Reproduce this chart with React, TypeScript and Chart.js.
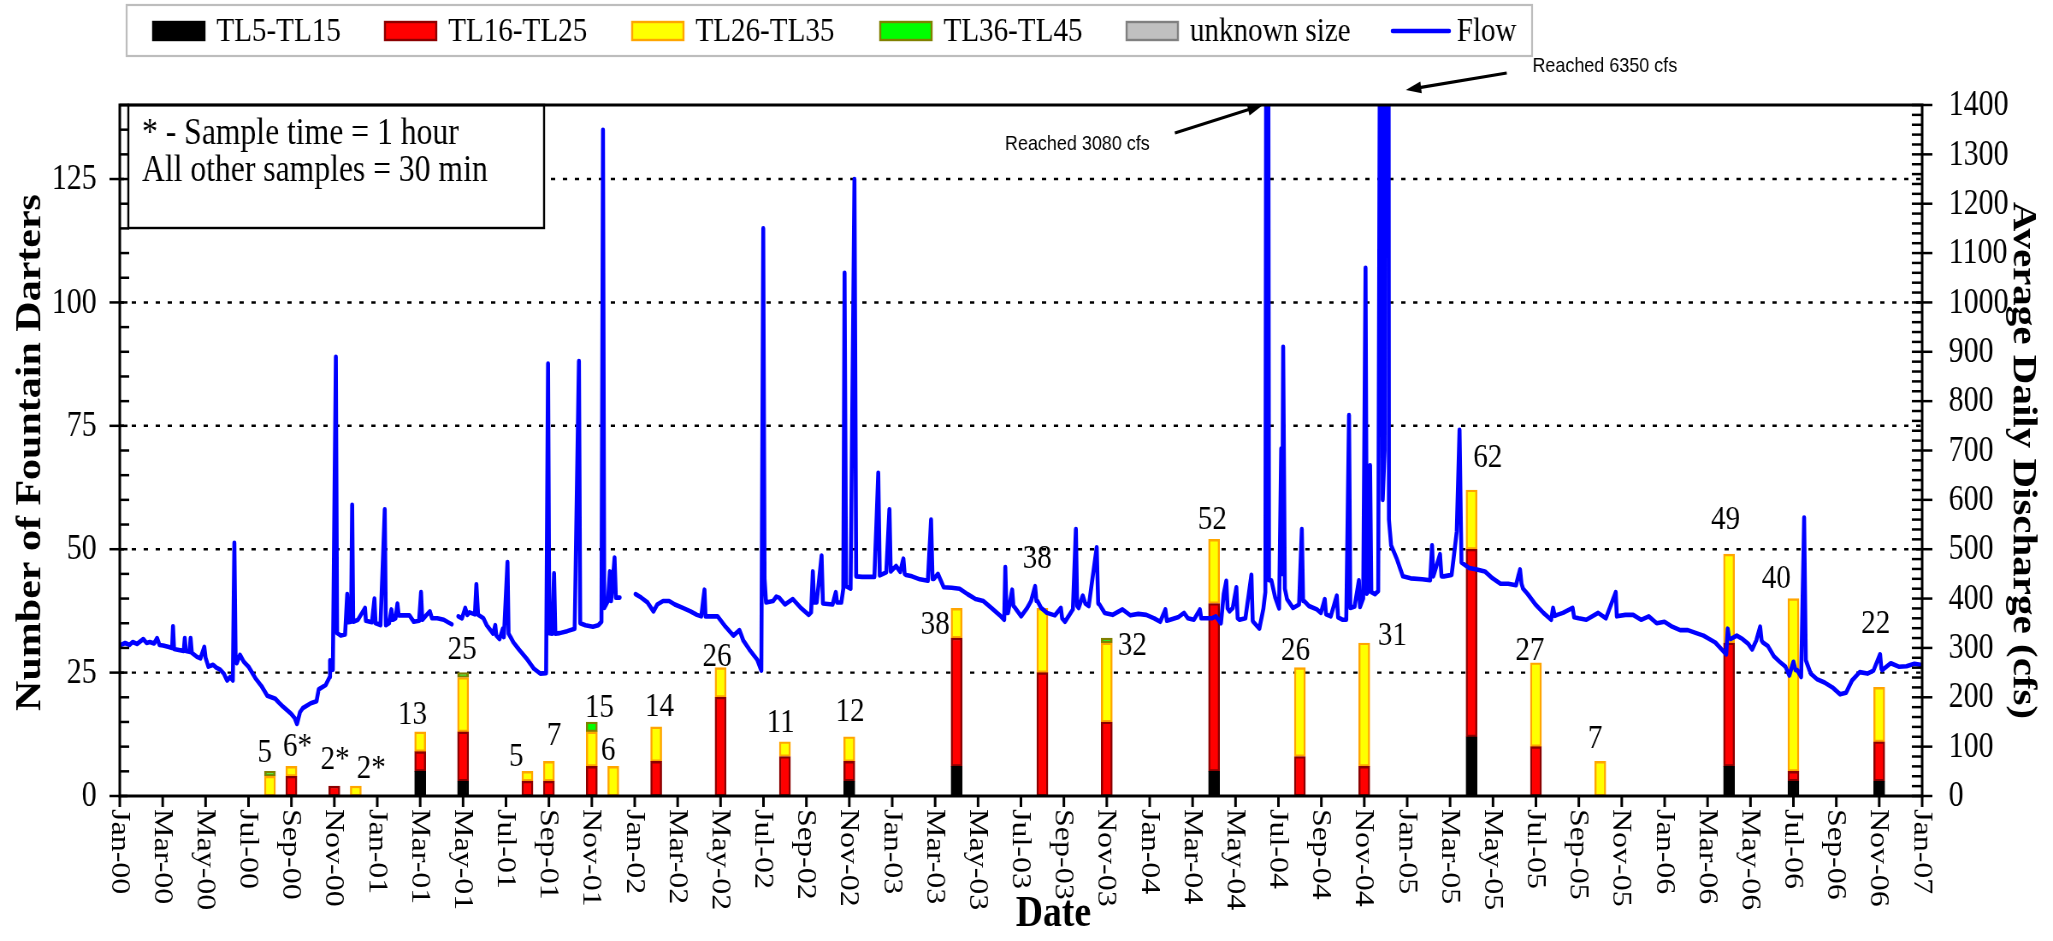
import React, { useEffect, useRef } from 'react';
import { Chart, registerables } from 'chart.js';

Chart.register(...registerables);

// Sampling events, in months elapsed since 1 Jan 2000
const sampleMonths = [7, 8, 10, 11, 14, 16, 19, 20, 22, 23, 25, 28, 31, 34, 39, 43, 46, 51, 55, 58, 63, 66, 69, 75, 78, 82];
// Samples taken with a 1-hour effort (flagged with *)
const oneHourSample = [false, true, true, true, false, false, false, false, false, false, false, false, false, false, false, false, false, false, false, false, false, false, false, false, false, false];

// Fountain darter counts per size class at each sampling event
const countTL5toTL15 = [0, 0, 0, 0, 5, 3, 0, 0, 0, 0, 0, 0, 0, 3, 6, 0, 0, 5, 0, 0, 12, 0, 0, 6, 3, 3];
const countTL16toTL25 = [0, 4, 2, 0, 4, 10, 3, 3, 6, 0, 7, 20, 8, 4, 26, 25, 15, 34, 8, 6, 38, 10, 0, 25, 2, 8];
const countTL26toTL35 = [4, 2, 0, 2, 4, 11, 2, 4, 7, 6, 7, 6, 3, 5, 6, 13, 16, 13, 18, 25, 12, 17, 7, 18, 35, 11];
const countTL36toTL45 = [1, 0, 0, 0, 0, 1, 0, 0, 2, 0, 0, 0, 0, 0, 0, 0, 1, 0, 0, 0, 0, 0, 0, 0, 0, 0];
const countUnknown = [0, 0, 0, 0, 0, 0, 0, 0, 0, 0, 0, 0, 0, 0, 0, 0, 0, 0, 0, 0, 0, 0, 0, 0, 0, 0];

// Average daily discharge (cfs), one list per year: [month of year, cfs]; null marks missing record
const flow2000: [number, number | null][] = [
  [0.0, 305], [0.25, 310], [0.45, 306], [0.6, 312], [0.8, 308], [1.1, 318], [1.25, 310], [1.4, 312], [1.6, 309],
  [1.74, 320], [1.85, 306], [2.02, 305], [2.29, 302], [2.44, 300], [2.48, 344], [2.53, 298], [2.75, 296], [2.98, 294],
  [3.03, 320], [3.08, 294], [3.25, 292], [3.3, 320], [3.36, 290], [3.6, 282], [3.76, 279], [3.94, 302], [4.0, 280],
  [4.13, 262], [4.35, 266], [4.5, 260], [4.68, 256], [4.85, 248], [5.0, 234], [5.14, 241], [5.27, 234], [5.34, 513],
  [5.4, 280], [5.45, 269], [5.6, 286], [5.78, 272], [6.0, 262], [6.33, 238], [6.6, 223], [6.88, 203], [7.25, 197],
  [7.4, 190], [7.61, 181], [7.98, 167], [8.15, 158], [8.26, 146], [8.4, 170], [8.53, 178], [8.9, 188], [9.17, 192],
  [9.27, 216], [9.6, 225], [9.78, 241], [9.8, 275], [9.85, 255], [9.93, 256], [10.07, 890], [10.13, 330], [10.3, 325],
  [10.5, 327], [10.6, 409], [10.66, 352], [10.78, 353], [10.83, 590], [10.88, 353], [11.1, 357], [11.43, 381],
  [11.47, 355], [11.75, 352], [11.87, 400], [11.92, 350],
];
const flow2001: [number, number | null][] = [
  [0.0, 349], [0.15, 346], [0.35, 581], [0.4, 346], [0.55, 350], [0.66, 378], [0.72, 357], [0.85, 360], [0.94, 390],
  [1.0, 366], [1.3, 366], [1.5, 366], [1.7, 353], [1.95, 355], [2.04, 413], [2.1, 357], [2.3, 367], [2.45, 374],
  [2.55, 360], [2.8, 360], [3.1, 357], [3.3, 352], [3.47, 348], [3.6, null], [3.78, 364], [3.95, 360], [4.1, 381],
  [4.2, 367], [4.3, 372], [4.55, 368], [4.62, 429], [4.7, 367], [4.95, 360], [5.1, 346], [5.4, 329], [5.5, 346],
  [5.55, 325], [5.7, 318], [5.85, 339], [5.9, 322], [6.07, 474], [6.12, 329], [6.35, 311], [6.6, 297], [6.95, 279],
  [7.3, 258], [7.6, 248], [7.87, 249], [7.96, 876], [8.02, 330], [8.15, 329], [8.24, 451], [8.3, 329], [8.5, 330],
  [8.85, 334], [9.2, 339], [9.4, 881], [9.46, 350], [9.7, 346], [10.05, 343], [10.3, 346], [10.45, 353], [10.52, 1350],
  [10.58, 381], [10.75, 395], [10.84, 455], [10.9, 395], [11.06, 483], [11.12, 402], [11.3, 402], [11.6, null],
];
const flow2002: [number, number | null][] = [
  [0.04, 409], [0.3, 402], [0.6, 392], [0.87, 374], [1.05, 388], [1.32, 395], [1.6, 395], [1.87, 388], [2.24, 381],
  [2.6, 374], [2.9, 367], [3.1, 364], [3.25, 418], [3.3, 364], [3.55, 364], [3.86, 364], [4.23, 343], [4.6, 325],
  [4.88, 336], [5.06, 315], [5.34, 297], [5.71, 276], [5.9, 254], [5.99, 1150], [6.05, 440], [6.12, 392], [6.45, 395],
  [6.6, 404], [6.73, 402], [7.0, 388], [7.37, 399], [7.74, 381], [8.11, 367], [8.22, 372], [8.3, 455], [8.36, 392],
  [8.48, 392], [8.71, 487], [8.77, 390], [9.22, 388], [9.37, 413], [9.43, 392], [9.63, 392], [9.72, 420], [9.78, 1060],
  [9.85, 425], [10.06, 420], [10.24, 1250], [10.32, 445], [10.6, 444], [10.89, 444], [11.17, 444], [11.35, 655],
  [11.42, 447], [11.72, 453], [11.87, 581], [11.93, 455],
];
const flow2003: [number, number | null][] = [
  [0.18, 466], [0.37, 454], [0.52, 481], [0.58, 450], [0.65, 448], [0.92, 445], [1.29, 439], [1.66, 436], [1.81, 560],
  [1.88, 440], [1.94, 440], [2.13, 450], [2.4, 423], [2.77, 422], [3.14, 420], [3.51, 409], [3.88, 399], [4.25, 395],
  [4.62, 381], [4.99, 367], [5.22, 357], [5.27, 464], [5.33, 371], [5.4, 371], [5.59, 418], [5.65, 385], [5.73, 381],
  [6.01, 364], [6.29, 381], [6.47, 395], [6.66, 425], [6.72, 395], [6.77, 395], [6.94, 381], [7.21, 371], [7.58, 366],
  [7.86, 381], [7.92, 360], [8.05, 353], [8.42, 378], [8.56, 541], [8.62, 385], [8.69, 381], [8.88, 406], [9.0, 390],
  [9.16, 385], [9.53, 504], [9.6, 390], [9.66, 388], [9.9, 371], [10.27, 367], [10.73, 378], [11.1, 366], [11.47, 369],
  [11.84, 367],
];
const flow2004: [number, number | null][] = [
  [0.21, 360], [0.49, 353], [0.73, 378], [0.8, 355], [0.95, 357], [1.32, 362], [1.6, 371], [1.78, 360], [2.06, 357],
  [2.34, 378], [2.4, 360], [2.52, 360], [2.89, 360], [3.08, 364], [3.32, 350], [3.45, 409], [3.57, 436], [3.63, 380],
  [3.72, 374], [3.87, 381], [4.04, 423], [4.1, 360], [4.19, 357], [4.46, 360], [4.74, 448], [4.8, 355], [4.83, 353],
  [5.11, 339], [5.3, 380], [5.39, 413], [5.48, 3080], [5.56, 437], [5.67, 437], [5.85, 402], [6.03, 380], [6.13, 704],
  [6.17, 450], [6.22, 910], [6.3, 420], [6.4, 399], [6.68, 381], [6.96, 388], [7.09, 541], [7.15, 395], [7.2, 395],
  [7.42, 385], [7.79, 378], [7.98, 371], [8.16, 399], [8.22, 368], [8.44, 364], [8.72, 406], [8.78, 362], [9.0, 357],
  [9.16, 357], [9.29, 772], [9.35, 381], [9.55, 384], [9.75, 437], [9.8, 383], [9.95, 400], [10.06, 1070], [10.12, 410],
  [10.2, 415], [10.27, 670], [10.33, 413], [10.5, 409], [10.65, 415], [10.8, 2600], [10.86, 600], [10.95, 700],
  [11.06, 6350], [11.15, 560], [11.25, 508], [11.52, 480], [11.8, 445],
];
const flow2005: [number, number | null][] = [
  [0.16, 441], [0.7, 439], [1.07, 437], [1.16, 508], [1.22, 445], [1.53, 490], [1.6, 445], [1.71, 445], [2.07, 448],
  [2.16, 480], [2.31, 536], [2.44, 742], [2.53, 473], [2.89, 462], [3.25, 459], [3.62, 455], [3.98, 441], [4.35, 430],
  [4.71, 430], [5.07, 427], [5.26, 459], [5.33, 430], [5.4, 420], [5.62, 409], [5.98, 388], [6.35, 371], [6.71, 357],
  [6.8, 381], [6.88, 365], [6.99, 367], [7.26, 371], [7.71, 381], [7.78, 362], [7.99, 360], [8.35, 357], [8.9, 371],
  [9.26, 360], [9.72, 413], [9.77, 364], [10.17, 367], [10.53, 367], [10.9, 357], [11.26, 364], [11.63, 350], [11.99, 353],
];
const flow2006: [number, number | null][] = [
  [0.35, 343], [0.72, 336], [1.08, 336], [1.54, 329], [1.81, 325], [2.08, 318], [2.36, 311], [2.72, 294], [2.87, 287],
  [2.94, 339], [3.0, 320], [3.08, 318], [3.36, 325], [3.63, 318], [3.9, 308], [4.08, 297], [4.27, 315], [4.45, 343],
  [4.52, 315], [4.58, 311], [4.81, 304], [5.09, 283], [5.36, 272], [5.63, 262], [5.81, 244], [6.0, 272], [6.1, 255],
  [6.18, 255], [6.36, 241], [6.5, 564], [6.58, 275], [6.63, 269], [6.81, 248], [7.09, 237], [7.45, 230], [7.82, 220],
  [8.18, 206], [8.45, 209], [8.73, 234], [9.09, 251], [9.45, 248], [9.73, 254], [10.04, 287], [10.1, 258], [10.14, 255],
  [10.54, 269], [10.91, 262], [11.27, 263], [11.64, 268], [12.0, 265],
];
const flowByYear = [flow2000, flow2001, flow2002, flow2003, flow2004, flow2005, flow2006];

// Axis ticks
const dateTickLabels = [
  'Jan-00', 'Mar-00', 'May-00', 'Jul-00', 'Sep-00', 'Nov-00',
  'Jan-01', 'Mar-01', 'May-01', 'Jul-01', 'Sep-01', 'Nov-01',
  'Jan-02', 'Mar-02', 'May-02', 'Jul-02', 'Sep-02', 'Nov-02',
  'Jan-03', 'Mar-03', 'May-03', 'Jul-03', 'Sep-03', 'Nov-03',
  'Jan-04', 'Mar-04', 'May-04', 'Jul-04', 'Sep-04', 'Nov-04',
  'Jan-05', 'Mar-05', 'May-05', 'Jul-05', 'Sep-05', 'Nov-05',
  'Jan-06', 'Mar-06', 'May-06', 'Jul-06', 'Sep-06', 'Nov-06',
  'Jan-07',
];
const darterTicks = [0, 25, 50, 75, 100, 125];
const dischargeTicks = [0, 100, 200, 300, 400, 500, 600, 700, 800, 900, 1000, 1100, 1200, 1300, 1400];

const SERIF = '"Liberation Serif", "Times New Roman", Times, serif';
const SANS = '"Liberation Sans", Arial, Helvetica, sans-serif';

// The drawing surface is laid out 2400 units wide and shown 2053 px wide,
// which gives the tall, narrow lettering of the printed figure.
const SURFACE_W = 2400;
const SURFACE_H = 941;

// Per-label placement tweaks [dx, lift], keeping count labels clear of neighbours
const labelNudge: [number, number][] = [
  [-6, 9], [7, 10], [1, 17], [18, 8], [-9, 8], [-1, 14], [-13, 5], [6, 16], [9, 5], [-6, 6], [4, 11], [-4, 2], [-5, 10],
  [1, 16], [-25, -26], [-6, 40], [30, -17], [-2, 10], [-5, 8], [33, -2], [19, 23], [-7, 3], [-6, 13], [-4, 25],
  [-20, 11], [-4, 54],
];

function drawArrow(ctx: CanvasRenderingContext2D, x0: number, y0: number, x1: number, y1: number) {
  const ang = Math.atan2(y1 - y0, x1 - x0);
  const len = 18;
  const hw = 6;
  ctx.beginPath();
  ctx.moveTo(x0, y0);
  ctx.lineTo(x1 - Math.cos(ang) * len * 0.8, y1 - Math.sin(ang) * len * 0.8);
  ctx.stroke();
  ctx.beginPath();
  ctx.moveTo(x1, y1);
  ctx.lineTo(x1 - Math.cos(ang) * len - Math.sin(ang) * hw, y1 - Math.sin(ang) * len + Math.cos(ang) * hw);
  ctx.lineTo(x1 - Math.cos(ang) * len + Math.sin(ang) * hw, y1 - Math.sin(ang) * len - Math.cos(ang) * hw);
  ctx.closePath();
  ctx.fill();
}

function drawRotated(ctx: CanvasRenderingContext2D, text: string, x: number, y: number, angle: number) {
  ctx.save();
  ctx.translate(x, y);
  ctx.rotate(angle);
  ctx.fillText(text, 0, 0);
  ctx.restore();
}

const frameGridPlugin = {
  id: 'frameGrid',
  beforeDatasetsDraw(chart: any) {
    const { ctx, chartArea, scales } = chart;
    const { left, right } = chartArea;
    ctx.save();
    ctx.strokeStyle = '#000';
    ctx.lineWidth = 2.4;
    ctx.setLineDash([5, 9]);
    for (const v of darterTicks) {
      if (v === 0) continue;
      const py = scales.y.getPixelForValue(v);
      ctx.beginPath();
      ctx.moveTo(left, py);
      ctx.lineTo(right, py);
      ctx.stroke();
    }
    ctx.restore();
  },
  afterDatasetsDraw(chart: any) {
    const { ctx, chartArea, scales, width } = chart;
    const { left, right, top, bottom } = chartArea;
    const xs = scales.x;
    const ys = scales.y;
    const y1s = scales.y1;
    ctx.save();
    ctx.setLineDash([]);
    ctx.strokeStyle = '#000';
    ctx.fillStyle = '#000';

    // note box, upper left
    const boxL = left + 10, boxT = top, boxR = left + 496, boxB = top + 123;
    ctx.fillStyle = '#fff';
    ctx.fillRect(boxL, boxT, boxR - boxL, boxB - boxT);
    ctx.lineWidth = 2.4;
    ctx.strokeRect(boxL, boxT, boxR - boxL, boxB - boxT);
    ctx.fillStyle = '#000';
    ctx.font = `37px ${SERIF}`;
    ctx.textAlign = 'left';
    ctx.textBaseline = 'alphabetic';
    ctx.fillText('* - Sample time = 1 hour', boxL + 16, top + 39);
    ctx.fillText('All other samples = 30 min', boxL + 16, top + 76);

    // plot frame
    ctx.lineWidth = 3;
    ctx.strokeRect(left, top, right - left, bottom - top);

    // left axis ticks (major + minor every 5)
    ctx.lineWidth = 2.5;
    for (let v = 0; v <= 140; v += 5) {
      const py = ys.getPixelForValue(v);
      const major = v % 25 === 0;
      ctx.beginPath();
      ctx.moveTo(major ? left - 12 : left, py);
      ctx.lineTo(major ? left + 9 : left + 11, py);
      ctx.stroke();
    }
    // right axis ticks (major + minor every 20)
    for (let v = 0; v <= 1400; v += 20) {
      const py = y1s.getPixelForValue(v);
      const major = v % 100 === 0;
      ctx.beginPath();
      ctx.moveTo(right - 12, py);
      ctx.lineTo(major ? right + 12 : right, py);
      ctx.stroke();
    }
    // date ticks
    ctx.lineWidth = 3;
    dateTickLabels.forEach((_, i) => {
      const px = xs.getPixelForValue(i * 2);
      ctx.beginPath();
      ctx.moveTo(px, bottom);
      ctx.lineTo(px, bottom + 11);
      ctx.stroke();
    });

    // tick labels
    ctx.font = `35px ${SERIF}`;
    ctx.textBaseline = 'middle';
    ctx.textAlign = 'right';
    for (const v of darterTicks) ctx.fillText(String(v), left - 27, ys.getPixelForValue(v) + 1);
    ctx.textAlign = 'left';
    for (const v of dischargeTicks) ctx.fillText(String(v), right + 31, y1s.getPixelForValue(v) + 1);
    ctx.font = `32px ${SERIF}`;
    dateTickLabels.forEach((lab, i) => {
      const px = xs.getPixelForValue(i * 2);
      ctx.save();
      ctx.translate(px, bottom + 13);
      ctx.rotate(Math.PI / 2);
      ctx.textAlign = 'left';
      ctx.textBaseline = 'middle';
      ctx.fillText(lab, 0, 1);
      ctx.restore();
    });

    // axis titles
    ctx.textAlign = 'center';
    ctx.textBaseline = 'middle';
    ctx.font = `bold 44px ${SERIF}`;
    ctx.fillText('Date', (left + right) / 2 + 38, 915);
    ctx.font = `bold 42px ${SERIF}`;
    drawRotated(ctx, 'Number of Fountain Darters', 36, (top + bottom) / 2 + 2, -Math.PI / 2);
    ctx.font = `bold 41px ${SERIF}`;
    drawRotated(ctx, 'Average Daily Discharge (cfs)', width - 35, (top + bottom) / 2 + 10, Math.PI / 2);

    // count labels above each sample's stack
    ctx.font = `34px ${SERIF}`;
    ctx.textAlign = 'center';
    ctx.textBaseline = 'alphabetic';
    sampleMonths.forEach((m, i) => {
      const total = countTL5toTL15[i] + countTL16toTL25[i] + countTL26toTL35[i] + countTL36toTL45[i] + countUnknown[i];
      const [dx, lift] = labelNudge[i];
      const px = xs.getPixelForValue(m);
      const py = ys.getPixelForValue(total);
      ctx.fillText(`${total}${oneHourSample[i] ? '*' : ''}`, px + dx, py - lift);
    });

    // off-scale flood peaks
    ctx.lineWidth = 3.2;
    const peakA = xs.getPixelForValue(4 * 12 + 5.48);
    drawArrow(ctx, peakA - 108, top + 28, peakA - 5, top);
    const peakB = xs.getPixelForValue(4 * 12 + 11.06);
    drawArrow(ctx, peakB + 140, top - 32, peakB + 22, top - 15);
    ctx.font = `21px ${SANS}`;
    ctx.textAlign = 'center';
    ctx.fillText('Reached 3080 cfs', peakA - 222, top + 45);
    ctx.textAlign = 'left';
    ctx.fillText('Reached 6350 cfs', peakB + 170, top - 33);

    ctx.restore();
  },
  afterDraw(chart: any) {
    const { ctx } = chart;
    const ds = chart.data.datasets;
    ctx.save();
    // legend frame
    ctx.fillStyle = '#fff';
    ctx.fillRect(148, 5, 1643, 51);
    ctx.strokeStyle = '#bdbdbd';
    ctx.lineWidth = 2.2;
    ctx.strokeRect(148, 5, 1643, 51);
    const cy = 31;
    const swatchX = [178, 449, 738, 1028, 1316];
    ctx.font = `34px ${SERIF}`;
    ctx.textBaseline = 'middle';
    ctx.textAlign = 'left';
    for (let i = 0; i < 5; i++) {
      const d = ds[i];
      ctx.fillStyle = d.backgroundColor;
      ctx.fillRect(swatchX[i], cy - 10, 62, 20);
      ctx.strokeStyle = d.borderColor;
      ctx.lineWidth = 2.4;
      ctx.strokeRect(swatchX[i] + 1, cy - 9, 60, 18);
      ctx.fillStyle = '#000';
      ctx.fillText(d.label, swatchX[i] + 75, cy + 1);
    }
    const flow = ds[5];
    ctx.strokeStyle = flow.borderColor;
    ctx.lineWidth = 4.5;
    ctx.lineCap = 'round';
    ctx.beginPath();
    ctx.moveTo(1628, cy);
    ctx.lineTo(1694, cy);
    ctx.stroke();
    ctx.fillStyle = '#000';
    ctx.fillText(flow.label, 1703, cy + 1);
    ctx.restore();
  },
};

export default function App() {
  const canvasRef = useRef<HTMLCanvasElement>(null);

  useEffect(() => {
    document.body.style.margin = '0';
    const canvas = canvasRef.current;
    if (!canvas) return;

    const barSet = (label: string, values: number[], fill: string, edge: string) => ({
      type: 'bar' as const,
      label,
      data: values.map((v, i) => ({ x: sampleMonths[i], y: v })),
      backgroundColor: fill,
      borderColor: edge,
      borderWidth: 2.4,
      borderSkipped: false,
      barThickness: 13,
      yAxisID: 'y',
      order: 1,
    });

    const flowPoints = flowByYear.flatMap((year, k) => year.map(([m, q]) => ({ x: k * 12 + m, y: q })));

    const chart = new Chart(canvas, {
      type: 'bar',
      data: {
        datasets: [
          barSet('TL5-TL15', countTL5toTL15, '#000000', '#000000'),
          barSet('TL16-TL25', countTL16toTL25, '#ff0000', '#8b0000'),
          barSet('TL26-TL35', countTL26toTL35, '#ffff00', '#ffa500'),
          barSet('TL36-TL45', countTL36toTL45, '#00ff00', '#808000'),
          barSet('unknown size', countUnknown, '#c0c0c0', '#808080'),
          {
            type: 'line' as const,
            label: 'Flow',
            data: flowPoints as any,
            borderColor: '#0000ff',
            backgroundColor: '#0000ff',
            borderWidth: 4.6,
            pointRadius: 0,
            tension: 0,
            spanGaps: false,
            borderJoinStyle: 'round',
            borderCapStyle: 'round',
            yAxisID: 'y1',
            order: 0,
            clip: 0,
          } as any,
        ],
      },
      options: {
        responsive: false,
        animation: false,
        devicePixelRatio: 1,
        events: [],
        layout: { padding: { top: 105, left: 0, right: 0, bottom: 0 } },
        plugins: { legend: { display: false }, tooltip: { enabled: false }, title: { display: false } },
        scales: {
          x: {
            type: 'linear',
            min: 0,
            max: 84,
            offset: false,
            stacked: true,
            grid: { display: false },
            border: { display: false },
            ticks: { display: false },
            title: { display: false },
            afterFit: (s: any) => { s.height = 145; },
          },
          y: {
            type: 'linear',
            position: 'left',
            min: 0,
            max: 140,
            stacked: true,
            grid: { display: false },
            border: { display: false },
            ticks: { display: false },
            title: { display: false },
            afterFit: (s: any) => { s.width = 140; },
          },
          y1: {
            type: 'linear',
            position: 'right',
            min: 0,
            max: 1400,
            stacked: false,
            grid: { display: false },
            border: { display: false },
            ticks: { display: false },
            title: { display: false },
            afterFit: (s: any) => { s.width = 153; },
          },
        },
      } as any,
      plugins: [frameGridPlugin],
    });

    return () => chart.destroy();
  }, []);

  return (
    <canvas
      ref={canvasRef}
      width={SURFACE_W}
      height={SURFACE_H}
      style={{ display: 'block', width: '2053px', height: '941px' }}
    />
  );
}
